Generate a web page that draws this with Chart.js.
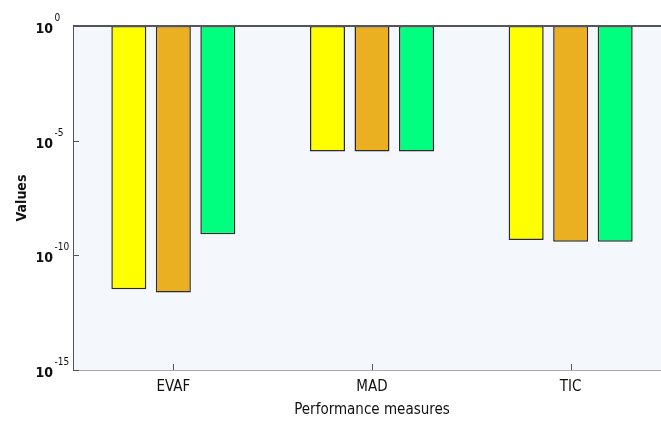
<!DOCTYPE html>
<html>
<head>
<meta charset="utf-8">
<script src="https://cdn.jsdelivr.net/npm/chart.js@4.4.1/dist/chart.umd.min.js"></script>
<style>
  html, body { margin: 0; padding: 0; background: #ffffff; }
  #wrap { width: 661px; height: 421px; overflow: hidden; position: relative; }
  canvas { display: block; }
</style>
</head>
<body>
<div id="wrap"><canvas id="c" width="670" height="421"></canvas></div>
<script>
// Performance measures and the three compared models' values
const categories = ['EVAF', 'MAD', 'TIC'];
const seriesYellow = [3.3e-12, 3.4e-6, 4.7e-10];
const seriesOrange = [2.4e-12, 3.4e-6, 3.9e-10];
const seriesGreen  = [8.3e-10, 3.4e-6, 3.9e-10];
const yTickValues = [1e-15, 1e-10, 1e-5, 1];
const yTickExponents = ['-15', '-10', '-5', '0'];
const barTop = 1; // bars hang down from 10^0

const FONT = '"Liberation Sans Narrow", "Arial Narrow", "DejaVu Sans Condensed", Arial, sans-serif';

function hanging(values) {
  return values.map(v => [v, barTop]);
}

// Plot background, top border, inward tick marks and 10^n tick labels
const decorations = {
  id: 'decorations',
  beforeDatasetsDraw(chart) {
    const { ctx, chartArea: a } = chart;
    ctx.save();
    ctx.fillStyle = '#F4F7FC';
    ctx.fillRect(a.left, a.top, a.right - a.left, a.bottom - a.top);
    ctx.restore();
  },
  afterDraw(chart) {
    const { ctx, chartArea: a, scales } = chart;
    const y = scales.y, x = scales.x;
    ctx.save();
    ctx.strokeStyle = '#555555';
    ctx.lineWidth = 2;
    ctx.beginPath();
    ctx.moveTo(a.left, a.top);
    ctx.lineTo(a.right, a.top);
    ctx.stroke();

    ctx.lineWidth = 1;
    ctx.strokeStyle = '#555555';
    yTickValues.forEach(v => {
      const py = Math.round(y.getPixelForValue(v)) + 0.5;
      ctx.beginPath();
      ctx.moveTo(a.left, py);
      ctx.lineTo(a.left + 5, py);
      ctx.stroke();
    });
    categories.forEach((c, i) => {
      const px = Math.round(x.getPixelForValue(i)) + 0.5;
      ctx.beginPath();
      ctx.moveTo(px, a.bottom);
      ctx.lineTo(px, a.bottom - 6);
      ctx.stroke();
    });

    ctx.fillStyle = '#111111';
    ctx.textBaseline = 'alphabetic';
    yTickValues.forEach((v, i) => {
      const py = y.getPixelForValue(v);
      ctx.font = 'bold 14px ' + FONT;
      ctx.textAlign = 'right';
      ctx.fillText('10', 53, py + 7);
      ctx.font = '10px ' + FONT;
      ctx.textAlign = 'left';
      ctx.fillText(yTickExponents[i], 54.5, py - 5);
    });
    ctx.restore();
  }
};

const barStyle = { borderColor: '#2b2b2b', borderWidth: 1.5, borderSkipped: false };

new Chart(document.getElementById('c'), {
  type: 'bar',
  data: {
    labels: categories,
    datasets: [
      Object.assign({ label: 'Series 1', data: hanging(seriesYellow), backgroundColor: '#FFFF00' }, barStyle),
      Object.assign({ label: 'Series 2', data: hanging(seriesOrange), backgroundColor: '#EBAF22' }, barStyle),
      Object.assign({ label: 'Series 3', data: hanging(seriesGreen),  backgroundColor: '#00FF7F' }, barStyle)
    ]
  },
  options: {
    responsive: false,
    animation: false,
    categoryPercentage: 0.672,
    barPercentage: 0.787,
    layout: { padding: { top: 26, right: 0, bottom: 0, left: 0 } },
    plugins: { legend: { display: false }, tooltip: { enabled: false } },
    scales: {
      x: {
        grid: { display: false, drawTicks: false },
        border: { display: true, color: '#555555', width: 1.5 },
        ticks: { color: '#111111', font: { family: FONT, size: 15 }, padding: 8 },
        title: {
          display: true, text: 'Performance measures', color: '#111111',
          font: { family: FONT, size: 15 }, padding: { top: 0, bottom: 2 }
        },
        afterFit(s) { s.height = 51; }
      },
      y: {
        type: 'logarithmic',
        min: 1e-15,
        max: 1,
        grid: { display: false, drawTicks: false },
        border: { display: true, color: '#555555', width: 1.5 },
        ticks: { display: false },
        afterBuildTicks(s) { s.ticks = yTickValues.map(v => ({ value: v })); },
        title: {
          display: true, text: 'Values', color: '#111111',
          font: { family: FONT, size: 14, weight: 'bold' }, padding: { top: 14, bottom: 0 }
        },
        afterFit(s) { s.width = 74; }
      }
    }
  },
  plugins: [decorations]
});
</script>
</body>
</html>
